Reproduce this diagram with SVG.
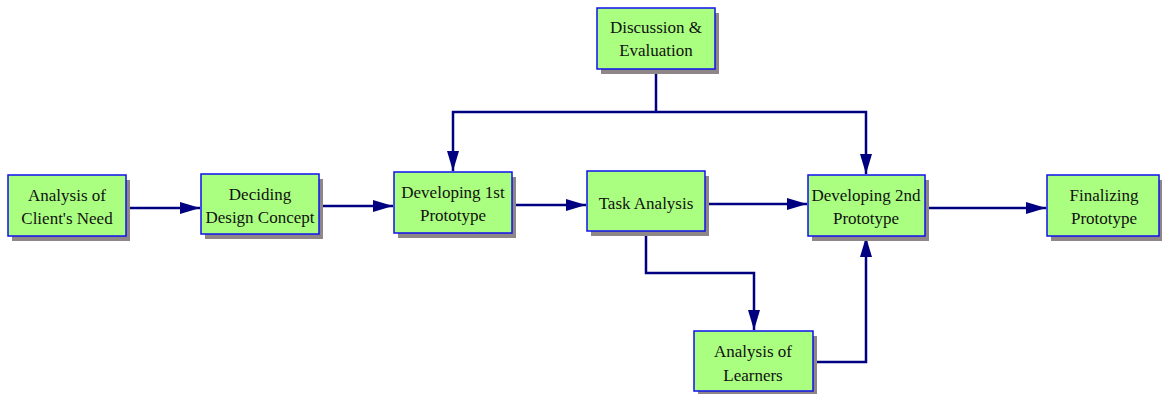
<svg xmlns="http://www.w3.org/2000/svg" width="1162" height="394" viewBox="0 0 1162 394">
<defs>
<style>
.sh{fill:#8f8787}
.bx{fill:#aaff80;stroke:#1010ee;stroke-width:1.5}
.t{font-family:"Liberation Serif","Times New Roman",serif;font-size:17px;fill:#111;text-anchor:middle}
.c{fill:none;stroke:#000080;stroke-width:2.5}
</style>
<marker id="ah" markerWidth="20" markerHeight="12" refX="20" refY="6" orient="auto" markerUnits="userSpaceOnUse">
<path d="M0,0 L20,6 L0,12 Z" fill="#000080"/>
</marker>
</defs>
<rect width="1162" height="394" fill="#fff"/>
<g id="connectors">
<path class="c" d="M126,208 H200" marker-end="url(#ah)"/>
<path class="c" d="M319,206 H393" marker-end="url(#ah)"/>
<path class="c" d="M512,205 H586" marker-end="url(#ah)"/>
<path class="c" d="M705,204 H807" marker-end="url(#ah)"/>
<path class="c" d="M925,208 H1046" marker-end="url(#ah)"/>
<path class="c" d="M656,69 V112"/>
<path class="c" d="M656,112 H453 V171" marker-end="url(#ah)"/>
<path class="c" d="M656,112 H866 V174" marker-end="url(#ah)"/>
<path class="c" d="M646,230 V273 H754 V330" marker-end="url(#ah)"/>
<path class="c" d="M813,362 H866 V237" marker-end="url(#ah)"/>
</g>
<g id="n1"><rect class="sh" x="12" y="180" width="118" height="61"/><rect class="bx" x="8" y="175" width="118" height="61"/><text class="t" x="67" y="201">Analysis of</text><text class="t" x="67" y="224">Client's Need</text></g>
<g id="n2"><rect class="sh" x="205" y="179" width="118" height="60"/><rect class="bx" x="201" y="174" width="118" height="60"/><text class="t" x="260" y="200">Deciding</text><text class="t" x="260" y="223">Design Concept</text></g>
<g id="n3"><rect class="sh" x="398" y="177" width="118" height="61"/><rect class="bx" x="394" y="172" width="118" height="61"/><text class="t" x="453" y="198">Developing 1st</text><text class="t" x="453" y="221">Prototype</text></g>
<g id="n4"><rect class="sh" x="591" y="176" width="118" height="60"/><rect class="bx" x="587" y="171" width="118" height="60"/><text class="t" x="646" y="209">Task Analysis</text></g>
<g id="n5"><rect class="sh" x="601" y="13" width="118" height="61"/><rect class="bx" x="597" y="8" width="118" height="61"/><text class="t" x="656" y="33">Discussion &amp;</text><text class="t" x="656" y="56">Evaluation</text></g>
<g id="n6"><rect class="sh" x="812" y="180" width="117" height="61"/><rect class="bx" x="808" y="175" width="117" height="61"/><text class="t" x="866" y="201">Developing 2nd</text><text class="t" x="866" y="224">Prototype</text></g>
<g id="n7"><rect class="sh" x="1051" y="180" width="112" height="61"/><rect class="bx" x="1047" y="175" width="112" height="61"/><text class="t" x="1104" y="201">Finalizing</text><text class="t" x="1104" y="224">Prototype</text></g>
<g id="n8"><rect class="sh" x="698" y="336" width="119" height="60"/><rect class="bx" x="694" y="331" width="119" height="60"/><text class="t" x="753" y="357">Analysis of</text><text class="t" x="753" y="381">Learners</text></g>
</svg>
